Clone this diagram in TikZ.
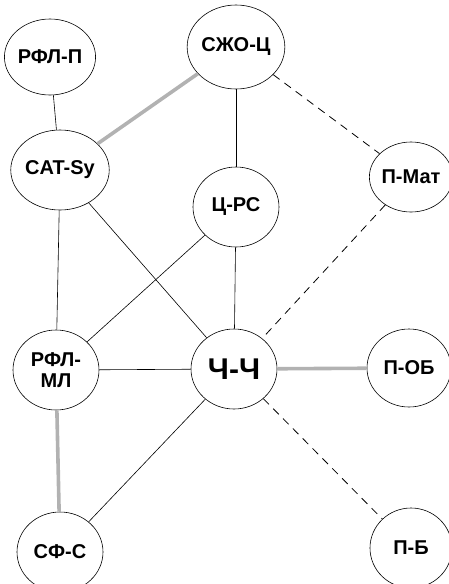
\documentclass[tikz,border=0pt]{standalone}
\usepackage{fontspec}
\setmainfont{Liberation Sans}
\usetikzlibrary{shapes.geometric}
\tikzset{
  term/.style={ellipse,draw,line width=0.6pt,minimum width=86pt,minimum height=80pt,inner sep=0pt,font=\bfseries\fontsize{20}{21}\selectfont,align=center},
  link/.style={line width=0.6pt},
  strong/.style={line width=3.6pt,color=black!30},
  weak/.style={line width=0.8pt,dash pattern=on 8pt off 6pt},
}
\begin{document}
\begin{tikzpicture}[x=1pt,y=-1pt]
\useasboundingbox (0,0) rectangle (449,584);
\node[term,minimum width=88pt,minimum height=76pt] (rflp) at (50,57) {РФЛ-П};
\node[term,minimum width=88pt,minimum height=84pt] (szhoc) at (236,47) {СЖО-Ц};
\node[term] (catsy) at (60,170) {CAT-Sy};
\node[term,minimum width=80pt,minimum height=70pt] (pmat) at (411,177) {П-Мат};
\node[term] (crs) at (236,207) {Ц-РС};
\node[term] (rflml) at (56,370) {РФЛ-\\МЛ};
\node[term,font=\bfseries\fontsize{30}{31}\selectfont] (chch) at (234,369) {Ч-Ч};
\node[term,minimum width=84pt,minimum height=78pt] (pob) at (409,368) {П-ОБ};
\node[term] (sfs) at (60,552) {СФ-С};
\node[term,minimum width=82pt] (pb) at (411,548) {П-Б};
% thin links
\draw[link] (rflp) -- (catsy);
\draw[link] (szhoc) -- (crs);
\draw[link] (catsy) -- (rflml);
\draw[link] (catsy) -- (chch);
\draw[link] (crs) -- (rflml);
\draw[link] (crs) -- (chch);
\draw[link] (rflml) -- (chch);
\draw[link] (sfs) -- (chch);
% grey links
\draw[strong] (szhoc) -- (catsy);
\draw[strong] (chch) -- (pob);
\draw[strong] (rflml) -- (sfs);
% dashed links
\draw[weak] (szhoc) -- (pmat);
\draw[weak] (pmat) -- (chch);
\draw[weak] (chch) -- (pb);
\end{tikzpicture}
\end{document}
